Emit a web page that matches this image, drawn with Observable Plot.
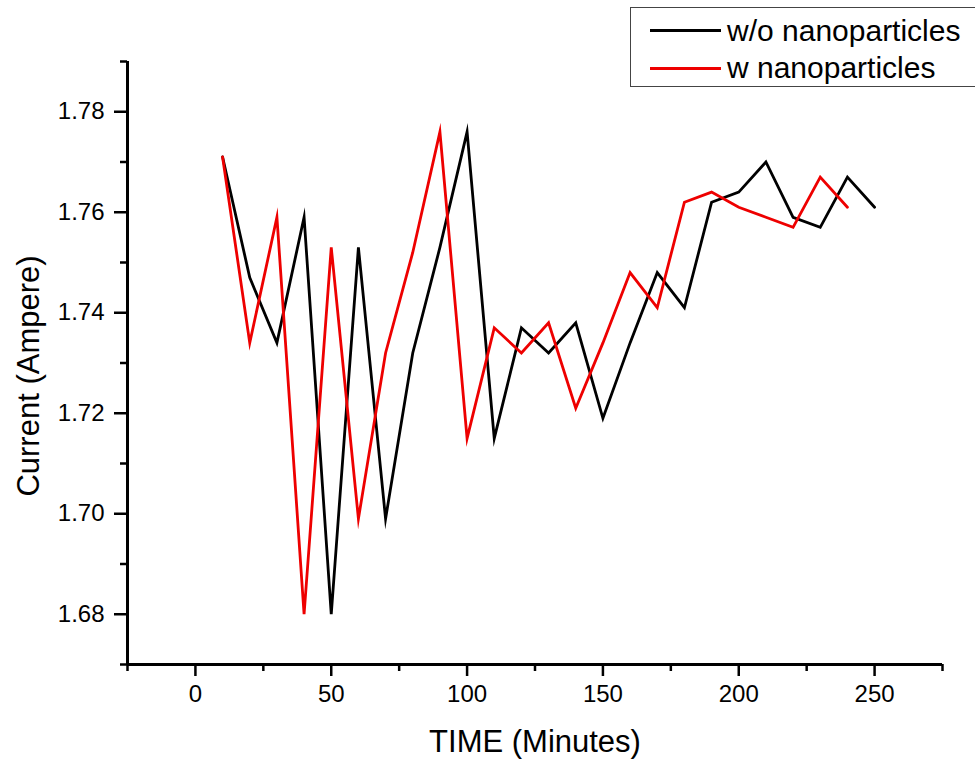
<!DOCTYPE html>
<html>
<head>
<meta charset="utf-8">
<script src="https://cdn.jsdelivr.net/npm/d3@7"></script>
<script src="https://cdn.jsdelivr.net/npm/@observablehq/plot@0.6"></script>
<style>
  html, body { margin: 0; padding: 0; background: #fff; overflow: hidden; }
  #wrap { position: relative; width: 975px; height: 765px; }
  .lg-box { position: absolute; left: 630px; top: 7px; width: 380px; height: 80px; border: 1.5px solid #444; box-sizing: border-box; }
  .lg-line { position: absolute; left: 650px; width: 71px; height: 3px; }
  .lg-text { position: absolute; left: 727px; font-family: "Liberation Sans", Arial, sans-serif; font-size: 30px; line-height: 30px; color: #000; white-space: nowrap; }
</style>
</head>
<body>
<div id="wrap">
  <div id="chart"></div>
  <div class="lg-box"></div>
  <div class="lg-line" id="lg-line-0" style="top:29px;"></div>
  <div class="lg-text" id="lg-text-0" style="top:16px;"></div>
  <div class="lg-line" id="lg-line-1" style="top:67px;"></div>
  <div class="lg-text" id="lg-text-1" style="top:53px;"></div>
</div>
<script>
// ---- data ----
const time = [10, 20, 30, 40, 50, 60, 70, 80, 90, 100, 110, 120, 130, 140, 150, 160, 170, 180, 190, 200, 210, 220, 230, 240, 250];
const withoutNanoparticles = [1.771, 1.747, 1.734, 1.759, 1.680, 1.753, 1.699, 1.732, 1.753, 1.776, 1.715, 1.737, 1.732, 1.738, 1.719, 1.734, 1.748, 1.741, 1.762, 1.764, 1.770, 1.759, 1.757, 1.767, 1.761];
const withNanoparticles = [1.771, 1.734, 1.759, 1.680, 1.753, 1.699, 1.732, 1.752, 1.776, 1.715, 1.737, 1.732, 1.738, 1.721, 1.734, 1.748, 1.741, 1.762, 1.764, 1.761, 1.759, 1.757, 1.767, 1.761];
const seriesNames = ["w/o nanoparticles", "w nanoparticles"];
const seriesColors = ["#000000", "#ee0000"];
const xMajorTicks = [0, 50, 100, 150, 200, 250];
const xMinorTicks = [-25, 25, 75, 125, 175, 225, 275];
const yMajorTicks = [1.68, 1.70, 1.72, 1.74, 1.76, 1.78];
const yMinorTicks = [1.67, 1.69, 1.71, 1.73, 1.75, 1.77, 1.79];
const xTitle = "TIME (Minutes)";
const yTitle = "Current (Ampere)";

// ---- table ----
const rows = [];
withoutNanoparticles.forEach((v, i) => rows.push({time: time[i], current: v, series: seriesNames[0]}));
withNanoparticles.forEach((v, i) => rows.push({time: time[i], current: v, series: seriesNames[1]}));

const font = "'Liberation Sans', Arial, sans-serif";

const chart = Plot.plot({
  width: 975,
  height: 765,
  marginLeft: 127,
  marginRight: 33,
  marginTop: 61,
  marginBottom: 101,
  style: {fontFamily: font, fontSize: "24px", background: "white", color: "black", overflow: "visible"},
  x: {domain: [-25, 275], label: null},
  y: {domain: [1.67, 1.79], label: null},
  color: {domain: seriesNames, range: seriesColors},
  marks: [
    Plot.axisX({ticks: xMinorTicks, tickSize: 7, strokeWidth: 2.5, fill: "none", label: null}),
    Plot.axisX({ticks: xMajorTicks, tickSize: 12, tickPadding: 8, strokeWidth: 2.5, fontSize: 24, label: null, tickFormat: d => String(d)}),
    Plot.axisY({ticks: yMinorTicks, tickSize: 7, strokeWidth: 2.5, fill: "none", label: null}),
    Plot.axisY({ticks: yMajorTicks, tickSize: 13, tickPadding: 10, strokeWidth: 2.5, fontSize: 24, label: null, tickFormat: d3.format(".2f")}),
    Plot.ruleY([1.67], {strokeWidth: 3}),
    Plot.ruleX([-25], {strokeWidth: 3}),
    Plot.line(rows, {x: "time", y: "current", z: "series", stroke: "series", strokeWidth: 2.8, strokeLinejoin: "miter", strokeMiterlimit: 10}),
    Plot.text([xTitle], {frameAnchor: "bottom", dy: 78, fontSize: 31, textAnchor: "middle", lineAnchor: "middle", text: d => d}),
    Plot.text([yTitle], {frameAnchor: "left", rotate: -90, dx: -98, dy: 13, fontSize: 31, textAnchor: "middle", lineAnchor: "middle", text: d => d})
  ]
});
document.getElementById("chart").appendChild(chart);

// legend
seriesNames.forEach((name, i) => {
  document.getElementById("lg-line-" + i).style.background = seriesColors[i];
  document.getElementById("lg-text-" + i).textContent = name;
});
</script>
</body>
</html>
